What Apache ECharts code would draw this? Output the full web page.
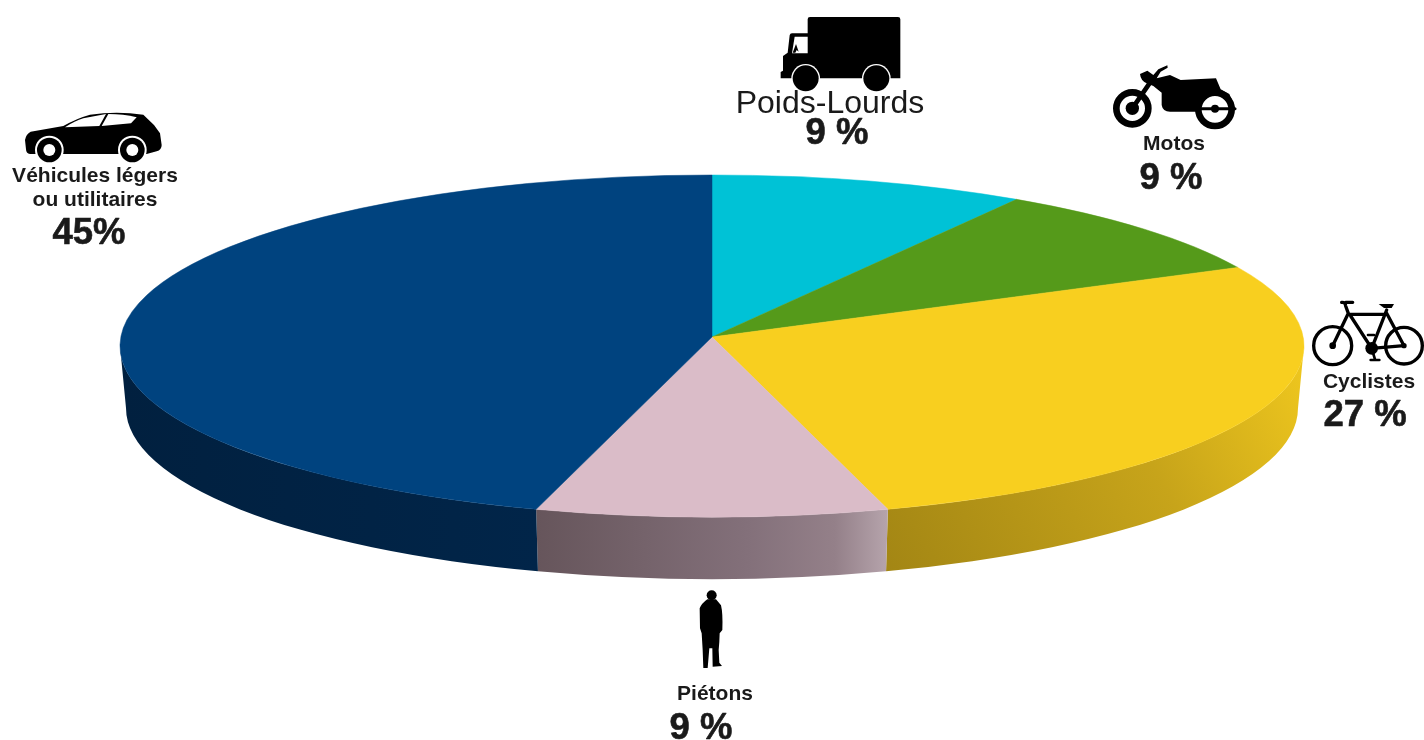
<!DOCTYPE html>
<html>
<head>
<meta charset="utf-8">
<title>Répartition</title>
<script src="https://cdn.jsdelivr.net/npm/echarts@6/dist/echarts.min.js"></script>
<style>
    html, body { margin: 0; padding: 0; background: #fff; }
    #main { width: 1424px; height: 740px; }
</style>
</head>
<body>
<div id="main"></div>
<script>
"use strict"

// data, clockwise from the top of the pie
const categories = ["Poids-Lourds", "Motos", "Cyclistes", "Piétons", "Véhicules légers\nou utilitaires"];
// slice sizes as measured on the picture, the printed labels are rounded
const values = [8.6, 8.8, 27.8, 9.6, 45.2];
const percentLabels = ["9 %", "9 %", "27 %", "9 %", "45%"];

// look of each slice
const topColors = ["#00c2d6", "#559a1a", "#f8cf1f", "#dabcc8", "#00437f"];
const wallStops = [
    null,
    null,
    [[0, "#a38614"], [0.6, "#c7a41a"], [1, "#f0c81e"]],
    [[0, "#66555b"], [0.6, "#83707a"], [0.85, "#948089"], [1, "#b6a4ac"]],
    [[0, "#01203f"], [1, "#012549"]]
];

// pie geometry: top ellipse, apex and the slightly narrower bottom ellipse
const CX = 712, TOP_CY = 346, TOP_RX = 592, RY = 171;
const APEX_Y = 337, BOT_CY = 408, BOT_RX = 586;

const total = values.reduce((a, b) => a + b, 0);
const starts = [];
values.reduce((sum, v, i) => { starts[i] = sum; return sum + v; }, 0);

function toAngle(v) {
    return v / total * Math.PI * 2;
}
function pt(a, rx, cy) {
    return [CX + rx * Math.sin(a), cy - RY * Math.cos(a)];
}

/* flat top of a slice */
function renderTop(params, api) {
    const i = params.dataIndex;
    const a1 = toAngle(starts[i]);
    const a2 = toAngle(starts[i] + api.value(0));
    const p1 = pt(a1, TOP_RX, TOP_CY);
    const p2 = pt(a2, TOP_RX, TOP_CY);
    const large = a2 - a1 > Math.PI ? 1 : 0;
    const d = `M${CX} ${APEX_Y}L${p1[0]} ${p1[1]}A${TOP_RX} ${RY} 0 ${large} 1 ${p2[0]} ${p2[1]}Z`;
    return {
        type: "path",
        shape: { pathData: d },
        style: { fill: topColors[i], stroke: topColors[i], lineWidth: 0.5 }
    };
}

/* visible front wall of a slice */
function renderWall(params, api) {
    const i = params.dataIndex;
    const a1 = Math.max(toAngle(starts[i]), Math.PI / 2);
    const a2 = Math.min(toAngle(starts[i] + api.value(0)), Math.PI * 1.5);
    if (a2 <= a1) {
        return null;
    }
    const t1 = pt(a1, TOP_RX, TOP_CY);
    const t2 = pt(a2, TOP_RX, TOP_CY);
    const b1 = pt(a1, BOT_RX, BOT_CY);
    const b2 = pt(a2, BOT_RX, BOT_CY);
    const d = `M${t1[0]} ${t1[1]}A${TOP_RX} ${RY} 0 0 1 ${t2[0]} ${t2[1]}` +
        `L${b2[0]} ${b2[1]}A${BOT_RX} ${RY} 0 0 0 ${b1[0]} ${b1[1]}Z`;
    const stops = wallStops[i].map(s => ({ offset: s[0], color: s[1] }));
    // yellow wall darkens towards the bottom left, the others go left to right
    const fill = i === 2
        ? new echarts.graphic.LinearGradient(0, 1, 1, 0, stops)
        : new echarts.graphic.LinearGradient(0, 0, 1, 0, stops);
    return {
        type: "path",
        shape: { pathData: d },
        style: { fill: fill }
    };
}

// label anchors, same order as categories: name then percent
const namePos = [[830, 104], [1174, 144], [1369, 382], [715, 694], [95, 188]];
const percentPos = [[837, 134], [1171, 179], [1365, 416], [701, 729], [89, 234]];

function textEl(text, pos, font, heavy) {
    return {
        type: "text",
        silent: true,
        style: {
            text: text,
            x: pos[0],
            y: pos[1],
            align: "center",
            verticalAlign: "middle",
            textAlign: "center",
            textVerticalAlign: "middle",
            lineHeight: 24,
            fill: "#1a1a1a",
            stroke: "#1a1a1a",
            lineWidth: heavy ? 0.6 : 0,
            font: font
        }
    };
}

function circle(x, y, r) {
    return `M${x - r} ${y}A${r} ${r} 0 1 1 ${x + r} ${y}A${r} ${r} 0 1 1 ${x - r} ${y}Z`;
}

// icons are drawn in the coordinates of their own little box, then scaled down
function icon(x, y, scale, parts) {
    return {
        type: "group",
        x: x,
        y: y,
        scaleX: scale,
        scaleY: scale,
        children: parts.map(p => ({
            type: "path",
            shape: { pathData: p.d },
            style: p.line
                ? { fill: "none", stroke: "#000", lineWidth: p.line, lineCap: "round", lineJoin: "round" }
                : { fill: p.fill || "#000" }
        }))
    };
}

const truck = icon(720, 0, 1 / 3, [
    { d: "M263 58Q263 51 270 51H534Q541 51 541 58V235H182V216L189 212V168L203 158L209 106Q210 100 216 100H263Z" },
    { d: "M224 110H263V160H216Z", fill: "#fff" },
    { d: "M218 158L228 132L236 155L230 150L226 158Z" },
    { d: circle(257, 235, 43), fill: "#fff" },
    { d: circle(257, 235, 39) },
    { d: circle(469, 235, 43), fill: "#fff" },
    { d: circle(469, 235, 39) }
]);

const car = icon(0, 90, 1 / 3, [
    { d: "M78 178L75 150Q78 132 92 125L190 108Q230 85 270 74Q350 62 430 74L462 105L480 130L485 165Q485 180 470 184L440 192H90Q78 190 78 178Z" },
    { d: "M195 112Q225 92 250 85L318 72L298 108Z", fill: "#fff" },
    { d: "M305 108L325 72Q370 72 410 82L393 100Z", fill: "#fff" },
    { d: circle(148, 180, 43), fill: "#fff" },
    { d: circle(148, 180, 37) },
    { d: circle(148, 180, 18), fill: "#fff" },
    { d: circle(397, 180, 43), fill: "#fff" },
    { d: circle(397, 180, 37) },
    { d: circle(397, 180, 18), fill: "#fff" }
]);

const moto = icon(1090, 50, 1 / 3, [
    { d: circle(127, 175, 48), line: 20 },
    { d: circle(127, 175, 20) },
    { d: "M127 175L180 98", line: 14 },
    { d: "M150 72L172 62L190 75L205 58L232 46L233 53L212 65L200 85L240 75L272 90L378 85L392 118L418 132L437 178L395 175L340 172L330 185H240Q218 185 215 165L215 128L190 108L170 100Q152 92 150 72Z" },
    { d: circle(375, 178, 42), fill: "#fff" },
    { d: circle(375, 178, 50), line: 20 },
    { d: "M335 176H435", line: 9 },
    { d: circle(375, 176, 12) }
]);

const bike = icon(1280, 280, 1 / 3, [
    { d: circle(158, 197, 57), line: 10 },
    { d: circle(372, 197, 55), line: 10 },
    { d: "M158 197L205 100L197 78Q196 66 185 67M197 67H218M205 103H320M212 108L275 205L320 90M320 100L372 197L275 205", line: 10 },
    { d: "M296 72H342L335 84H312Z" },
    { d: circle(158, 197, 10) },
    { d: circle(372, 197, 8) },
    { d: circle(275, 205, 19) },
    { d: "M275 205L285 238M272 240H298M264 165H282", line: 8 }
]);

const walker = icon(650, 580, 1 / 3, [
    { d: circle(185, 46, 15) },
    { d: "M172 58H198L213 76Q219 100 217 150L209 160L208 185L206 210L208 248L216 258L188 260L187 205L178 205L173 264H160L158 210L155 160L150 145L149 85Q155 70 172 58Z" }
]);

const icons = [truck, moto, bike, walker, car];

const myChart = echarts.init(document.getElementById("main"), null, { renderer: "canvas" });
const seriesData = values.map((v, i) => ({ name: categories[i], value: [v] }));

const labelEls = [];
categories.forEach((name, i) => {
    // Poids-Lourds is the only one set large and not bold
    labelEls.push(textEl(name, namePos[i], i === 0 ? '32px "Liberation Sans"' : 'bold 21px "Liberation Sans"', false));
    labelEls.push(textEl(percentLabels[i], percentPos[i], 'bold 36.5px "Liberation Sans"', true));
});

const option = {
    backgroundColor: "#fff",
    animation: false,
    series: [
        { type: "custom", coordinateSystem: "none", silent: true, z: 1, renderItem: renderWall, data: seriesData },
        { type: "custom", coordinateSystem: "none", silent: true, z: 2, renderItem: renderTop, data: seriesData },
        { type: "custom", coordinateSystem: "none", silent: true, z: 3, renderItem: (params) => icons[params.dataIndex], data: seriesData }
    ],
    graphic: { elements: labelEls }
};

myChart.setOption(option);
</script>
</body>
</html>
